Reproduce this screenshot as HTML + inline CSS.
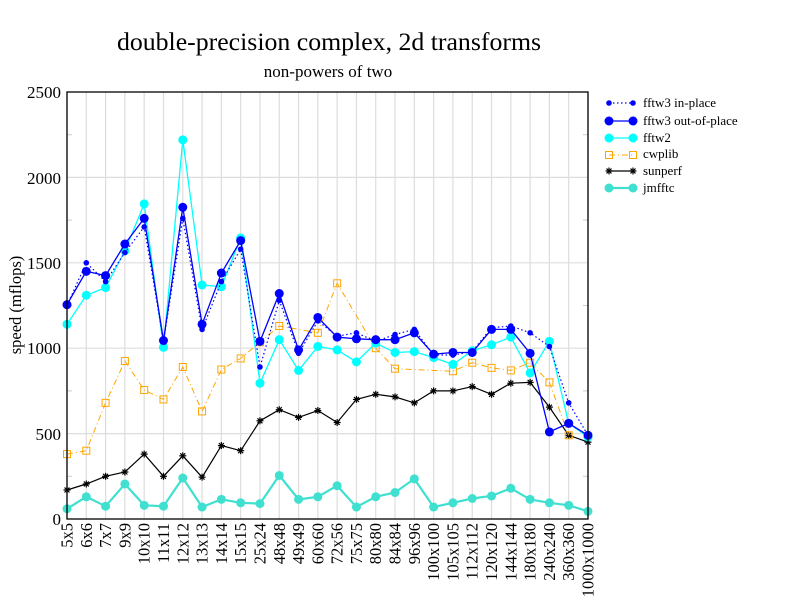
<!DOCTYPE html>
<html><head><meta charset="utf-8"><style>
body{margin:0;background:#fff}
svg{display:block;font-family:"Liberation Serif",serif}
</style></head><body>
<svg id="s" width="792" height="612" xmlns="http://www.w3.org/2000/svg">
<rect width="792" height="612" fill="#fff"/>
<text x="329" y="50" font-size="25.8" text-anchor="middle">double-precision complex, 2d transforms</text>
<text x="328" y="77" font-size="17" text-anchor="middle">non-powers of two</text>
<g font-size="17" text-anchor="end">
<text x="61" y="98">2500</text><text x="61" y="184">2000</text><text x="61" y="269">1500</text>
<text x="61" y="354">1000</text><text x="61" y="440">500</text><text x="61" y="525">0</text>
</g>
<text transform="translate(21,305) rotate(-90)" font-size="16.5" text-anchor="middle">speed (mflops)</text>
<g id="grid"></g>
<g id="xl" font-size="16.5"></g>
<g id="ser"></g>
<rect x="67" y="92" width="521" height="427" fill="none" stroke="#000" stroke-width="1.3"/>
<g font-size="13">
<text x="643" y="107">fftw3 in-place</text>
<text x="643" y="125">fftw3 out-of-place</text>
<text x="643" y="142">fftw2</text>
<text x="643" y="158">cwplib</text>
<text x="643" y="175">sunperf</text>
<text x="643" y="192">jmfftc</text>
</g>
<g id="leg"></g>
</svg>
<script>
var NS="http://www.w3.org/2000/svg",s=document.getElementById('s');
function el(p,t,a){var e=document.createElementNS(NS,t);for(var k in a)e.setAttribute(k,a[k]);document.getElementById(p).appendChild(e);return e;}
var labs=["5x5","6x6","7x7","9x9","10x10","11x11","12x12","13x13","14x14","15x15","25x24","48x48","49x49","60x60","72x56","75x75","80x80","84x84","96x96","100x100","105x105","112x112","120x120","144x144","180x180","240x240","360x360","1000x1000"];
var x0=67,dx=521/27;function X(i){return x0+i*dx}function Y(v){return 519-v*427/2500}
for(var i=0;i<28;i++){el('grid','line',{x1:X(i),x2:X(i),y1:92,y2:519,stroke:'#ddd','stroke-width':1.2});
var t=el('xl','text',{transform:'translate('+(X(i)+5.5)+',523) rotate(-90)','text-anchor':'end'});t.textContent=labs[i];}
for(var v=500;v<2500;v+=500)el('grid','line',{x1:67,x2:588,y1:Y(v),y2:Y(v),stroke:'#ddd','stroke-width':1.2});
for(var v=250;v<2500;v+=500){el('grid','line',{x1:67,x2:72,y1:Y(v),y2:Y(v),stroke:'#ccc'});el('grid','line',{x1:583,x2:588,y1:Y(v),y2:Y(v),stroke:'#ccc'});}
var N=null;
var S=[
{d:[170,205,250,275,380,250,370,245,430,400,575,640,595,635,565,700,730,715,680,750,750,775,730,795,800,655,490,450],c:'#000',w:1.2,m:'star'},
{d:[60,130,75,205,80,75,240,70,115,95,90,255,115,130,195,70,130,155,235,70,95,120,135,180,115,95,80,45],c:'#40e0d0',w:2.2,m:'c',r:4.5},
{d:[380,400,680,925,755,700,890,630,875,940,1035,1130,N,1090,1380,N,1000,880,N,N,865,915,885,870,915,800,490,N],c:'#ffa500',w:1,m:'sq',dash:'6,3,1,3'},
{d:[1140,1310,1355,1570,1845,1005,2220,1370,1360,1645,795,1050,870,1010,990,920,1030,975,980,945,905,985,1020,1065,855,1040,560,480],c:'#00ffff',w:1.3,m:'c',r:4.5},
{d:[1255,1450,1425,1610,1760,1045,1825,1140,1440,1630,1040,1320,990,1180,1065,1055,1050,1050,1090,965,975,975,1110,1110,970,510,560,490],c:'#0000ff',w:1.3,m:'c',r:4.5},
{d:[1250,1500,1390,1560,1710,1040,1760,1110,1390,1580,890,1280,970,1160,1070,1090,1040,1080,1110,960,960,980,1120,1130,1090,1010,680,490],c:'#0000ff',w:1.2,m:'c',r:2.8,dash:'1.5,2.5'}
];
function mark(g,m,x,y,c,r){
if(m=='c')el(g,'circle',{cx:x,cy:y,r:r,fill:c});
else if(m=='sq')el(g,'rect',{x:x-3.5,y:y-3.5,width:7,height:7,fill:'none',stroke:c,'stroke-width':1});
else{for(var a=0;a<4;a++){var an=a*Math.PI/4;el(g,'line',{x1:x-3.5*Math.cos(an),y1:y-3.5*Math.sin(an),x2:x+3.5*Math.cos(an),y2:y+3.5*Math.sin(an),stroke:c,'stroke-width':1.2});}}
}
S.forEach(function(o){var p=[];o.d.forEach(function(v,i){if(v!==null)p.push(X(i).toFixed(1)+','+Y(v).toFixed(1));});
var a={points:p.join(' '),fill:'none',stroke:o.c,'stroke-width':o.w};if(o.dash)a['stroke-dasharray']=o.dash;el('ser','polyline',a);
o.d.forEach(function(v,i){if(v!==null)mark('ser',o.m,X(i),Y(v),o.c,o.r);});});
var L=[[103,5],[121,4],[138,3],[155,2],[171,0],[188,1]];
L.forEach(function(q){var o=S[q[1]],y=q[0];var a={x1:609,x2:633,y1:y,y2:y,stroke:o.c,'stroke-width':o.w};if(o.dash)a['stroke-dasharray']=o.dash;el('leg','line',a);mark('leg',o.m,609,y,o.c,o.r);mark('leg',o.m,633,y,o.c,o.r);});
</script>
</body></html>
